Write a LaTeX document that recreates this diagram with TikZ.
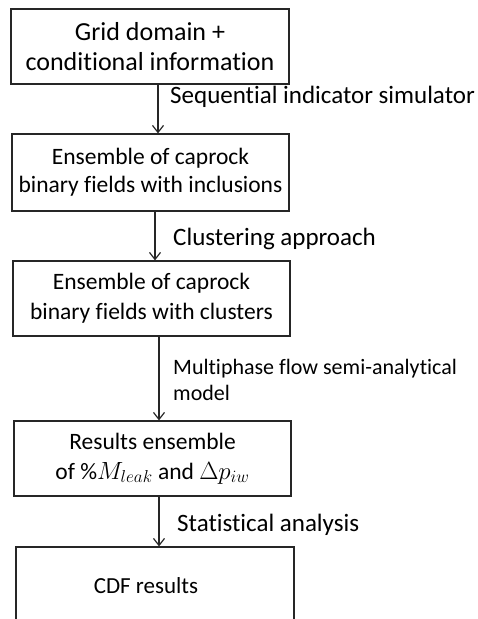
\documentclass[tikz,border=0pt]{standalone}
\usepackage{fontspec}
\setmainfont{Carlito}[Ligatures={NoCommon,NoContextual}]
\usetikzlibrary{arrows.meta}
\newcommand{\fsz}[2]{\fontsize{#1}{#2}\selectfont}
\begin{document}
\begin{tikzpicture}[x=1pt,y=-1pt,
  box/.style={draw=black!85,line width=1.2pt,rectangle,align=center,inner sep=0pt},
  arr/.style={draw=black!85,line width=1.2pt,-{Straight Barb[length=7pt,width=11pt,line width=1.2pt]}},
  lab/.style={anchor=west,align=left,inner sep=0pt}]
\useasboundingbox (0,0) rectangle (478,619);
\node[box,minimum width=278pt,minimum height=75pt,font=\fsz{26}{30}] (b1) at (150,46.5)
  {Grid domain +\\ conditional information};
\node[box,minimum width=277pt,minimum height=77pt,font=\fsz{23.5}{28}] (b2) at (150.5,172.5)
  {Ensemble of caprock\\ binary fields with inclusions};
\node[box,minimum width=277pt,minimum height=75pt,font=\fsz{23.5}{30}] (b3) at (151.5,298.5)
  {Ensemble of caprock\\ binary fields with clusters};
\node[box,minimum width=277pt,minimum height=75pt,font=\fsz{23.5}{30}] (b4) at (152.5,458.5)
  {Results ensemble\\ of \%$M_{leak}$ and $\Delta p_{iw}$};
\node[box,minimum width=278pt,minimum height=78pt,font=\fsz{23}{28}] (b5) at (155,586)
  {CDF results\hspace*{18pt}};
\draw[arr] ([xshift=8pt]b1.south) -- ([xshift=8pt]b1.south |- b2.north);
\draw[arr] ([xshift=4.5pt]b2.south) -- ([xshift=4.5pt]b2.south |- b3.north);
\draw[arr] ([xshift=7.5pt]b3.south) -- ([xshift=7.5pt]b3.south |- b4.north);
\draw[arr] ([xshift=6.5pt]b4.south) -- ([xshift=6.5pt]b4.south |- b5.north);
\node[lab,font=\fsz{25}{30}] (l1) at (170,97) {Sequential indicator simulator};
\node[lab,font=\fsz{25}{30}] (l2) at (173,239) {Clustering approach};
\node[lab,font=\fsz{22}{26}] (l3) at (173,380) {Multiphase flow semi-analytical\\ model};
\node[lab,font=\fsz{25}{30}] (l4) at (177,525) {Statistical analysis};
\end{tikzpicture}
\end{document}
